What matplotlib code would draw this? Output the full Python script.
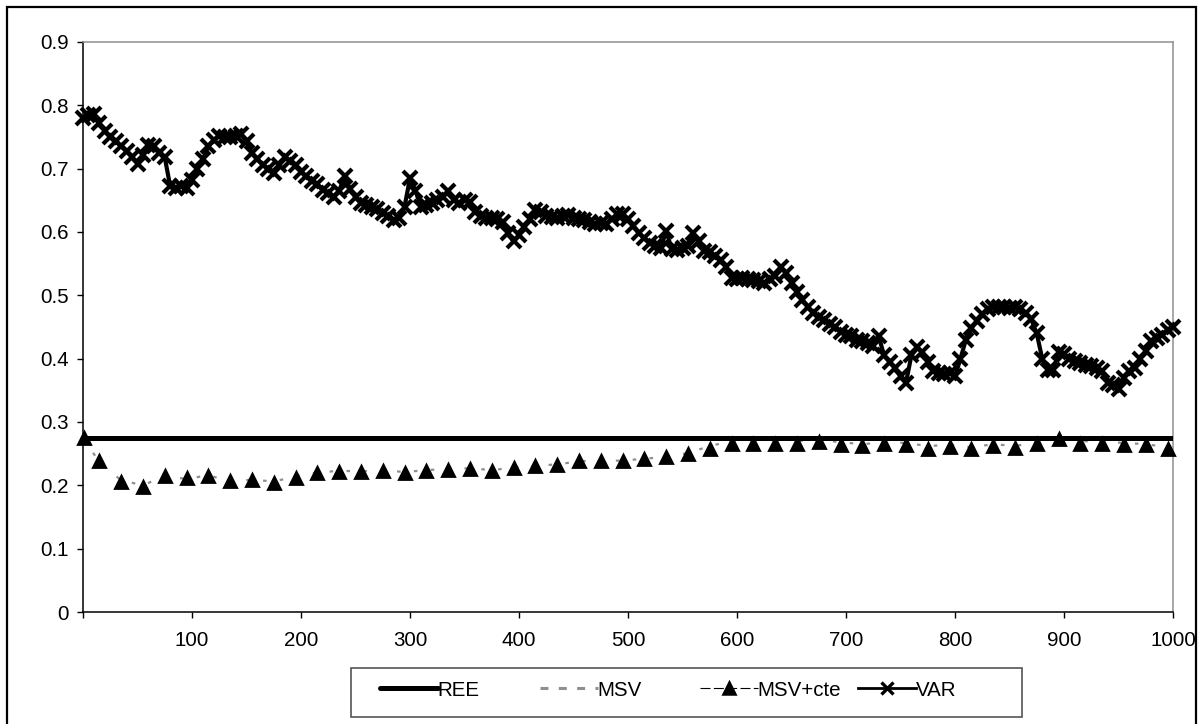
import numpy as np
import matplotlib
matplotlib.use("Agg")
import matplotlib.pyplot as plt
from matplotlib.lines import Line2D
from matplotlib.patches import Rectangle

plt.rcParams['font.family'] = ['Liberation Sans', 'DejaVu Sans']

# ---- data -------------------------------------------------------------
REE_LEVEL = 0.275

# MSV / MSV+cte sampled every 20 steps (first sample at step 1)
MSV_X = [1] + list(range(15, 1000, 20))
MSV_CTE = [0.274, 0.239, 0.206, 0.198, 0.214, 0.212, 0.215, 0.207, 0.208, 0.204,
           0.212, 0.219, 0.221, 0.221, 0.223, 0.219, 0.223, 0.225, 0.226, 0.223,
           0.227, 0.230, 0.232, 0.239, 0.238, 0.238, 0.241, 0.244, 0.249, 0.258,
           0.265, 0.265, 0.266, 0.265, 0.269, 0.264, 0.262, 0.266, 0.264, 0.258,
           0.261, 0.257, 0.262, 0.259, 0.266, 0.273, 0.266, 0.266, 0.264, 0.263,
           0.257]
MSV = [0.274, 0.236, 0.208, 0.200, 0.215, 0.210, 0.216, 0.206, 0.209, 0.206,
       0.214, 0.220, 0.223, 0.222, 0.224, 0.221, 0.224, 0.226, 0.227, 0.224,
       0.228, 0.231, 0.233, 0.238, 0.239, 0.239, 0.242, 0.245, 0.251, 0.262,
       0.270, 0.272, 0.274, 0.270, 0.272, 0.268, 0.265, 0.268, 0.267, 0.262,
       0.264, 0.260, 0.265, 0.262, 0.268, 0.275, 0.270, 0.269, 0.267, 0.265,
       0.260]

# VAR every 5 steps from 0 to 1000
VAR_X = list(range(0, 1001, 5))
VAR = [0.780, 0.785, 0.787, 0.772, 0.760, 0.750, 0.743, 0.735, 0.728, 0.718,
       0.708, 0.722, 0.738, 0.735, 0.725, 0.718, 0.672, 0.670, 0.672, 0.670,
       0.682, 0.700, 0.715, 0.735, 0.745, 0.752, 0.750, 0.750, 0.752, 0.755,
       0.743, 0.725, 0.715, 0.706, 0.700, 0.693, 0.705, 0.718, 0.712, 0.705,
       0.695, 0.688, 0.680, 0.675, 0.666, 0.662, 0.656, 0.665, 0.688, 0.668,
       0.655, 0.645, 0.643, 0.640, 0.636, 0.630, 0.625, 0.619, 0.622, 0.640,
       0.685, 0.665, 0.640, 0.642, 0.645, 0.650, 0.655, 0.665, 0.650, 0.645,
       0.650, 0.648, 0.632, 0.625, 0.622, 0.622, 0.620, 0.615, 0.598, 0.585,
       0.595, 0.608, 0.620, 0.635, 0.632, 0.625, 0.624, 0.622, 0.625, 0.627,
       0.622, 0.620, 0.619, 0.616, 0.612, 0.614, 0.612, 0.620, 0.628, 0.628,
       0.620, 0.610, 0.598, 0.590, 0.582, 0.578, 0.574, 0.602, 0.573, 0.572,
       0.574, 0.578, 0.598, 0.585, 0.570, 0.568, 0.562, 0.556, 0.545, 0.527,
       0.525, 0.528, 0.525, 0.524, 0.522, 0.520, 0.525, 0.530, 0.545, 0.535,
       0.520, 0.505, 0.493, 0.482, 0.472, 0.465, 0.461, 0.455, 0.450, 0.442,
       0.438, 0.435, 0.430, 0.428, 0.424, 0.420, 0.435, 0.405, 0.395, 0.385,
       0.372, 0.362, 0.405, 0.418, 0.410, 0.395, 0.380, 0.378, 0.376, 0.377,
       0.372, 0.400, 0.430, 0.448, 0.460, 0.470, 0.478, 0.482, 0.482, 0.482,
       0.480, 0.482, 0.478, 0.472, 0.462, 0.440, 0.400, 0.382, 0.382, 0.410,
       0.408, 0.400, 0.397, 0.393, 0.390, 0.388, 0.385, 0.380, 0.362, 0.358,
       0.352, 0.370, 0.380, 0.385, 0.400, 0.412, 0.428, 0.432, 0.438, 0.445,
       0.450]

X_TICKS = list(range(0, 1001, 100))
X_TICK_LABELS = [''] + [str(t) for t in X_TICKS[1:]]
Y_TICKS = [0.0, 0.1, 0.2, 0.3, 0.4, 0.5, 0.6, 0.7, 0.8, 0.9]
Y_TICK_LABELS = ['0', '0.1', '0.2', '0.3', '0.4', '0.5', '0.6', '0.7', '0.8', '0.9']

# ---- figure -----------------------------------------------------------
W, H = 1203, 724
fig = plt.figure(figsize=(W / 100, H / 100), dpi=100)
ax = fig.add_axes([83 / W, 1 - 612 / H, (1173 - 83) / W, (612 - 42) / H])

GRAY = '#8f8f8f'
FS = 14.8

msv_style = dict(color=GRAY, lw=1.6, linestyle=(0, (1.6, 6.0)))
cte_marker = dict(marker='^', markersize=8.5, markerfacecolor='black',
                  markeredgecolor='black', markeredgewidth=2.0)
var_style = dict(color='black', lw=3.0, marker='x', markersize=10,
                 markeredgewidth=3.0)

ax.plot(MSV_X, MSV, zorder=2, **msv_style)
ax.axhline(REE_LEVEL, color='black', lw=3.6, zorder=3)
ax.plot(MSV_X, MSV_CTE, linestyle='none', zorder=4, clip_on=False, **cte_marker)
ax.plot(VAR_X, VAR, zorder=5, clip_on=False, **var_style)

ax.set_xlim(0, 1000)
ax.set_ylim(0, 0.9)
ax.set_xticks(X_TICKS)
ax.set_xticklabels(X_TICK_LABELS)
ax.set_yticks(Y_TICKS)
ax.set_yticklabels(Y_TICK_LABELS)
ax.tick_params(axis='both', direction='out', length=4, width=1, color='black',
               labelsize=FS)
ax.tick_params(axis='y', pad=6)
ax.tick_params(axis='x', pad=10)

for side in ('left', 'bottom'):
    ax.spines[side].set_color('black')
    ax.spines[side].set_linewidth(1.1)
for side in ('top', 'right'):
    ax.spines[side].set_color(GRAY)
    ax.spines[side].set_linewidth(1.1)

# ---- legend -----------------------------------------------------------
handles = [
    Line2D([], [], color='black', lw=3.6, solid_capstyle='round'),
    Line2D([], [], color=GRAY, lw=2.2, linestyle=(0, (2.6, 3.4))),
    Line2D([], [], color='black', lw=0.8, linestyle=(0, (9, 3)),
           marker='^', markersize=8, markerfacecolor='black',
           markeredgecolor='black', markeredgewidth=1.8),
    Line2D([], [], color='black', lw=2.0, marker='x', markersize=8,
           markeredgewidth=2.4),
]
labels = ['REE', 'MSV', 'MSV+cte', 'VAR']
starts = [380, 540, 700, 858]
leg_y = 1 - 690 / H
for h, lab, x0 in zip(handles, labels, starts):
    fig.legend([h], [lab], loc='center left', bbox_to_anchor=(x0 / W, leg_y),
               frameon=False, fontsize=FS, handlelength=2.8, handletextpad=0.0,
               borderpad=0, borderaxespad=0, numpoints=1)

fig.patches.append(Rectangle((351 / W, 1 - 717 / H), (1022 - 351) / W, (717 - 668) / H,
                             transform=fig.transFigure, fill=False,
                             edgecolor='#555555', lw=1.2))
# outer chart border
fig.patches.append(Rectangle((7 / W, -0.02), (1196 - 7) / W, 1 - 7 / H + 0.02,
                             transform=fig.transFigure, fill=False,
                             edgecolor='black', lw=1.6))

fig.savefig('out.png', dpi=100)
